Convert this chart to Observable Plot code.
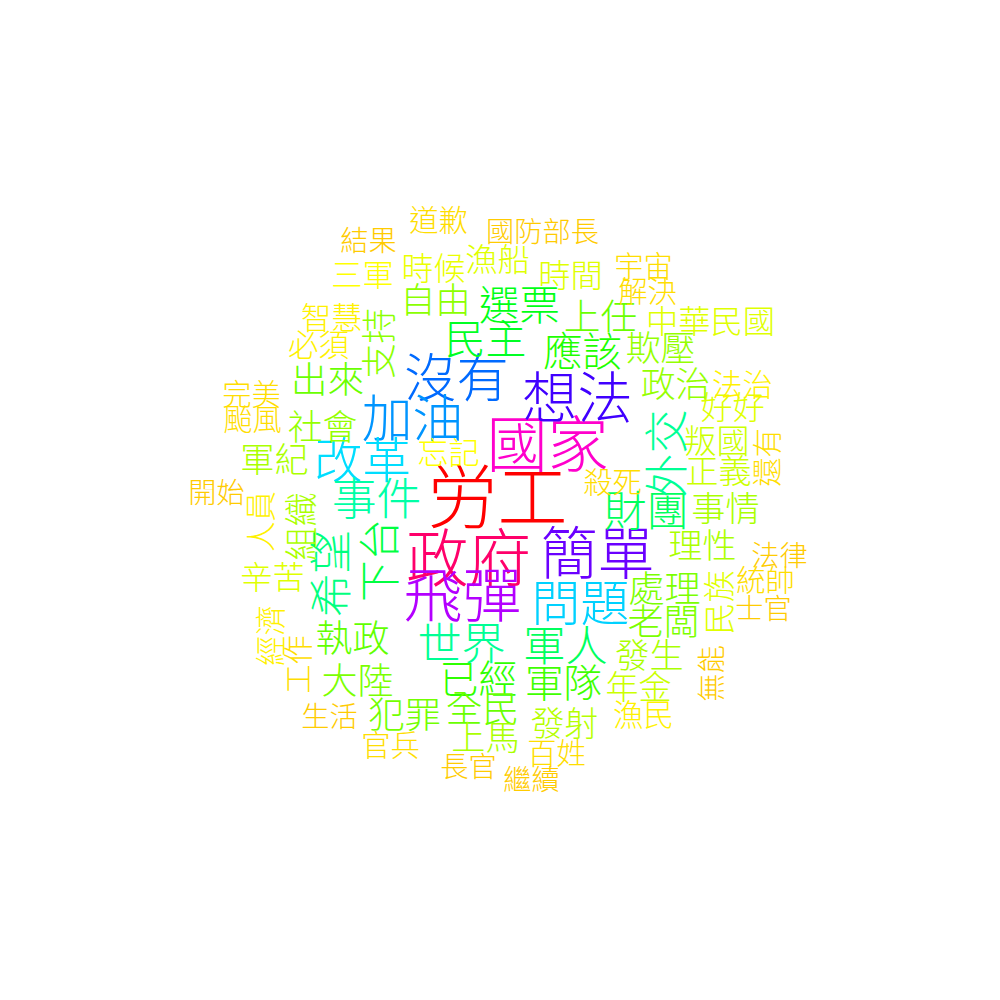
<!DOCTYPE html>
<html><head><meta charset="utf-8">
<script src="https://cdn.jsdelivr.net/npm/d3@7"></script>
<script src="https://cdn.jsdelivr.net/npm/@observablehq/plot@0.6"></script>
<style>body{margin:0;background:#fff}</style>
</head><body><div id="chart"></div>
<script>
// Word cloud data: word, frequency, layout position (cloud units 0–1000), vertical flag
const words = ["労工","政府","國家","飛彈","簡單","想法","沒有","加油","問題","改革",
"事件","外交","世界","希望","軍人","財團","下台","民主","選票","應該",
"已經","軍隊","執政","出來","上任","全民","犯罪","處理","老闆","大陸",
"自由","支持","欺壓","政治","社會","上馬","發生","事情","理性","軍紀",
"組織","發射","年金","叛國","正義","漁船","時間","中華民國","好好","辛苦",
"民族","時候","三軍","忘記","智慧","必須","人員","法治","漁民","經濟",
"道歉","宇宙","解決","完美","颱風","官兵","百姓","統帥","還有","殺死",
"工作","結果","國防部長","開始","生活","長官","繼續","無能","士官","法律"];
const counts = [120,100,96,90,85,80,72,68,63,62,
52,50,50,48,45,45,43,41,40,37,
36,35,31,30,30,30,29,28,28,28,
26,26,25,25,25,23,23,23,23,23,
23,22,20,20,20,18,18,18,18,18,
18,17,15,15,13,13,13,13,13,13,
10,10,10,10,10,10,10,10,10,10,
10,7,7,7,7,7,7,7,7,7];
const cloudX = [497,468,547,462,597,577,456,412,580,362,
376,668,461,333,565,646,381,485,519,582,
478,563,352,327,600,482,404,664,663,357,
435,380,660,675,322,485,649,725,702,274,
303,564,638,716,718,497,570,710,732,272,
720,433,362,448,331,318,262,742,643,272,
438,643,647,251,252,390,556,765,768,612,
299,368,542,216,329,468,531,712,763,779];
const cloudY = [500,560,447,598,555,400,380,420,605,462,
500,453,645,573,647,512,560,340,307,353,
680,684,640,381,318,710,716,590,623,682,
301,343,349,385,428,739,657,510,547,461,
526,725,688,442,472,260,276,322,408,578,
602,269,276,454,319,346,521,386,716,635,
221,267,292,395,420,746,754,581,457,483,
664,241,232,493,717,767,780,673,609,556];
const vertical = [0,0,0,0,0,0,0,0,0,0,
0,1,0,1,0,0,1,0,0,0,
0,0,0,0,0,0,0,0,0,0,
0,1,0,0,0,0,0,0,0,0,
1,0,0,0,0,0,0,0,0,0,
1,0,0,0,0,0,1,0,0,1,
0,0,0,0,0,0,0,0,1,0,
1,0,0,0,0,0,0,1,0,0];

const data = words.map((w, i) => ({word: w, count: counts[i], x: cloudX[i], y: cloudY[i], v: vertical[i]}));

const size = d3.scaleLinear().domain([5, 120]).range([27.5, 70]);
const hue = d3.scaleLinear()
  .domain([5, 10, 15, 20, 25, 30, 35, 40, 45, 50, 55, 62, 68, 72, 80, 85, 90, 96, 100, 120])
  .range([45, 52, 60, 72, 85, 95, 105, 125, 142, 155, 165, 188, 205, 215, 255, 265, 282, 312, 335, 360]);

const font = "'Noto Sans CJK TC', 'Noto Sans CJK SC', sans-serif";
const common = {
  x: "x", y: "y", text: "word", fill: "count",
  fontSize: d => size(d.count), fontFamily: font, fontWeight: 300,
  textAnchor: "middle", lineAnchor: "middle"
};

const chart = Plot.plot({
  width: 1000, height: 1000, margin: 0,
  x: {domain: [0, 1000], range: [0, 1000], axis: null},
  y: {domain: [0, 1000], range: [0, 1000], axis: null},
  color: {type: "linear", domain: [5, 120], interpolate: t => d3.hsl(hue(5 + t * 115), 1, 0.5).formatRgb()},
  marks: [
    Plot.text(data.filter(d => !d.v), common),
    Plot.text(data.filter(d => d.v), {...common, rotate: -90})
  ]
});
document.getElementById("chart").appendChild(chart);
</script>
</body></html>
